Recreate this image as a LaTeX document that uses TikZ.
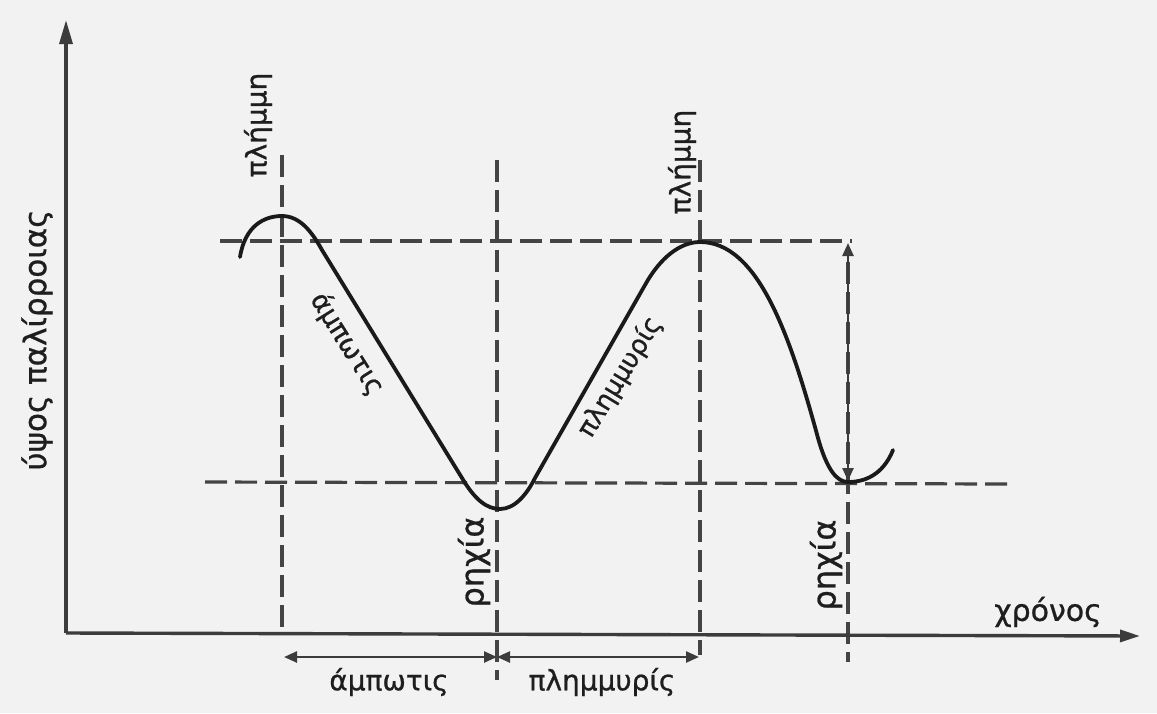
\documentclass[tikz,border=0pt]{standalone}
\usepackage{fontspec}
\setmainfont{DejaVu Sans}[FakeBold=0.8]
\newfontfamily\lblfont{DejaVu Sans}[FakeBold=0.8]
\usetikzlibrary{arrows.meta}
\definecolor{bg}{HTML}{F2F2F2}
\definecolor{axiscol}{HTML}{3C3C3C}
\definecolor{dashcol}{HTML}{444444}
\definecolor{curvecol}{HTML}{1A1A1A}
\definecolor{txtcol}{HTML}{1E1E1E}
\begin{document}
\begin{tikzpicture}[x=1pt,y=-1pt,
  axisline/.style={draw=axiscol,line width=3.4pt,-{Triangle[length=24pt,width=13pt]}},
  guide/.style={draw=dashcol,line width=3.2pt,dash pattern=on 22pt off 8pt},
  tide/.style={draw=curvecol,line width=3.8pt,line cap=round},
  dim/.style={draw=axiscol,line width=2.4pt,{Triangle[length=13pt,width=11pt]}-{Triangle[length=13pt,width=11pt]}},
  lbl/.style={text=txtcol,inner sep=0pt}]
\fill[bg] (0,0) rectangle (1157,713);
\useasboundingbox (0,0) rectangle (1157,713);
% coordinates
\coordinate (O) at (66,633);
\coordinate (Ytop) at (66,20);
\coordinate (Xend) at (1140,636);
\coordinate (HTa) at (220,241);
\coordinate (HTb) at (852,241);
\coordinate (HBa) at (205,482);
\coordinate (HBb) at (1008,484);
\coordinate (V1a) at (282,155);
\coordinate (V1b) at (282,633);
\coordinate (V2a) at (497,160);
\coordinate (V2b) at (497,680);
\coordinate (V3a) at (700,160);
\coordinate (V3b) at (700,655);
\coordinate (V4a) at (848,262);
\coordinate (V4b) at (848,662);
\coordinate (R1) at (848,243);
\coordinate (R2) at (848,481);
\coordinate (Da) at (284,657);
\coordinate (Db) at (497,657);
\coordinate (Dc) at (699,657);
% guides
\draw[guide] (HTa) -- (HTb);
\draw[guide] (HBa) -- (HBb);
\draw[guide] (V1a) -- (V1b);
\draw[guide] (V2a) -- (V2b);
\draw[guide] (V3a) -- (V3b);
\draw[guide] (V4a) -- (V4b);
% range arrow
\draw[dim] (R1) -- (R2);
% axes
\draw[axisline] (O) -- (Ytop);
\draw[axisline,-{Triangle[length=20pt,width=12pt]}] (O) -- (Xend);
% tide curve
\draw[tide] (240,257) .. controls (245,226) and (264,216) .. (282,216)
  .. controls (300,216) and (312,232) .. (322,250) -- (462,478)
  .. controls (475,500) and (487,509) .. (500,509)
  .. controls (515,509) and (527,494) .. (535,478) -- (645,285)
  .. controls (660,258) and (680,242) .. (700,242)
  .. controls (758,242) and (790,335) .. (818,438)
  .. controls (827,470) and (837,482) .. (848,482)
  .. controls (870,482) and (885,470) .. (893,450);
% bottom dimensions
\draw[dim] (Da) -- (Db);
\draw[dim] (Db) -- (Dc);
% labels
\node[lbl,rotate=90,font=\lblfont\fontsize{31}{33}\selectfont] (ylab) at (37,340) {ύψος παλίρροιας};
\node[lbl,font=\lblfont\fontsize{30}{32}\selectfont] (xlab) at (1048,612) {χρόνος};
\node[lbl,rotate=90,font=\lblfont\fontsize{28}{30}\selectfont] (pl1) at (258,125) {πλήμμη};
\node[lbl,rotate=90,font=\lblfont\fontsize{28}{30}\selectfont] (pl2) at (682,162) {πλήμμη};
\node[lbl,rotate=-58,font=\lblfont\fontsize{27}{29}\selectfont] (amp1) at (347,344) {άμπωτις};
\node[lbl,rotate=58.5,font=\lblfont\fontsize{26}{28}\selectfont] (plm1) at (620,377) {πλημμυρίς};
\node[lbl,rotate=90,font=\lblfont\fontsize{32}{34}\selectfont] (rx1) at (474,562) {ρηχία};
\node[lbl,rotate=90,font=\lblfont\fontsize{32}{34}\selectfont] (rx2) at (826,565) {ρηχία};
\node[lbl,font=\lblfont\fontsize{28}{30}\selectfont] (amp2) at (389,682) {άμπωτις};
\node[lbl,font=\lblfont\fontsize{28}{30}\selectfont] (plm2) at (602,682) {πλημμυρίς};
\end{tikzpicture}
\end{document}
